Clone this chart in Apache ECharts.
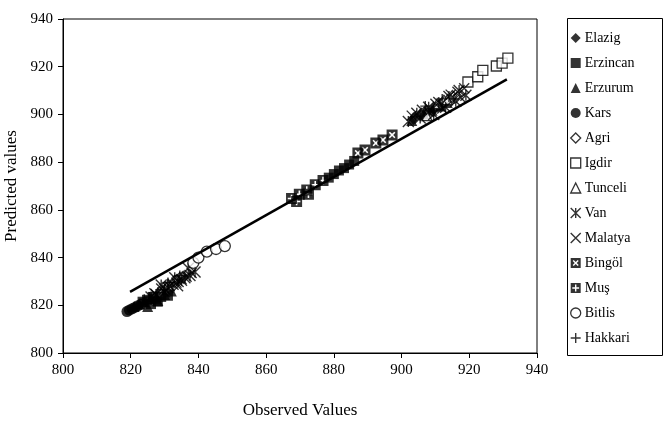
<!DOCTYPE html>
<html><head><meta charset="utf-8">
<script src="https://cdn.jsdelivr.net/npm/echarts@6/dist/echarts.min.js"></script>
<style>html,body{margin:0;padding:0;background:#fff}#c{width:667px;height:425px}</style>
</head><body><div id="c"></div>
<script>
// ---- data (observed, predicted) ----
const axisTicks = [800, 820, 840, 860, 880, 900, 920, 940];
const fitLine = [[819.8, 825.6], [931.1, 914.7]];
const elazig = [[903.5,898.3],[905.5,899.8],[907.5,901.2],[909.5,902.5],[911.5,904]];
const erzincan = [[823.5,821.5],[824.8,822.3],[826,820.5],[826.5,823.5],[828,821.5],[829,823.5],[831,824],
                  [878.5,873.5],[880,875],[881.5,876.5],[883,877.5],[884.5,879],[886,880.5]];
const erzurum = [[821,819.5],[822.5,820.5],[824,821.5],[825,819.5],[826,822.8],[827.5,823],[828,822],[830,824.5],[832,826],
                 [903,897.5],[906.5,900.2],[909,901.8],[911.5,903.5],[913.5,905]];
const kars = [[818.9,817.4],[819.6,818],[820.4,818.5],[821.2,819.1],[822.1,819.8],[823,820.4]];
const agri = [[833,830],[835.5,831.8],[912.5,905.5],[915,907.5]];
const igdir = [[919.6,913.6],[922.5,915.8],[924,918.5],[928,920.3],[929.7,921.5],[931.4,923.6]];
const tunceli = [[831,828.5],[907.5,899.5],[910.5,904.5],[913.5,906.2]];
const van = [[826,823.5],[827.5,824.5],[829,828.5],[830,826.8],[831,827.5],[832.5,828.8],[833,831.5],[834,830],[835,830.5],[836,831.5],[837,835.5],[837.5,832.5],[839,834],
             [902,897],[904.5,900.5],[905.5,898.5],[908,903],[909.5,900],[911,905],[913,903],[914,907.5],[916,905.5],[917,910],[919,908]];
const malatya = [[827,825],[829,827],[830,825.5],[831.5,828],[833.5,829.5],[834,828],[835,831],[836.5,832],[838,833.5],
                 [903,899.5],[906,902],[908,901],[910,904.5],[912,902.5],[914.5,908.3],[916.5,909.5],[917.5,907],[918.5,911]];
const bingol = [[887.1,883.8],[889.2,885.1],[892.4,888],[894.5,889.3],[897.2,891.4]];
const mus = [[867.5,864.8],[869,863.5],[869.8,866.5],[872,868.3],[872.5,866.5],[874.5,870.5],[876.8,872.3]];
const bitlis = [[838.5,837.8],[840,840],[842.5,842.5],[845.2,843.6],[847.8,844.8]];
const hakkari = [[824,822.5],[825.5,823.5],[828,825.5],[829.5,826.5],[831,829.5],[834.5,832.5],
                 [904,899],[907,903.5],[909.5,901.5],[912,906.5],[915.5,906.5]];

const names = ['Elazig','Erzincan','Erzurum','Kars','Agri','Igdir','Tunceli','Van','Malatya','Bingöl','Muş','Bitlis','Hakkari'];
const datasets = [elazig, erzincan, erzurum, kars, agri, igdir, tunceli, van, malatya, bingol, mus, bitlis, hakkari];

const P_STAR = 'path://M0,0L10,10M10,0L0,10M5,0L5,10';
const P_X = 'path://M0,0L10,10M10,0L0,10';
const P_PLUS = 'path://M5,0L5,10M0,5L10,5';
const P_XBOX = 'path://M0,0L10,0L10,10L0,10Z M3,2L2,3L4,5L2,7L3,8L5,6L7,8L8,7L6,5L8,3L7,2L5,4Z';
const P_PBOX = 'path://M0,0L10,0L10,10L0,10Z M4.3,1.6L4.3,4.3L1.6,4.3L1.6,5.7L4.3,5.7L4.3,8.4L5.7,8.4L5.7,5.7L8.4,5.7L8.4,4.3L5.7,4.3L5.7,1.6Z';

const filled = {color:'#000', borderWidth:0};
const open = {color:'#fff', borderColor:'#000', borderWidth:1.3};
const strokeOnly = {color:'rgba(0,0,0,0)', borderColor:'#000', borderWidth:1.4};
const styles = [
  {symbol:'diamond', size:[11,13], style:filled},
  {symbol:'rect', size:10, style:filled},
  {symbol:'triangle', size:11, style:filled},
  {symbol:'circle', size:11, style:filled},
  {symbol:'diamond', size:[10,12], style:open},
  {symbol:'rect', size:10, style:open},
  {symbol:'triangle', size:10, style:open},
  {symbol:P_STAR, size:11, style:strokeOnly},
  {symbol:P_X, size:10, style:strokeOnly},
  {symbol:P_XBOX, size:11, style:filled},
  {symbol:P_PBOX, size:11, style:filled},
  {symbol:'circle', size:11, style:open},
  {symbol:P_PLUS, size:10, style:strokeOnly}
];

const FONT = '"Liberation Serif","Times New Roman",serif';
const series = names.map((n, i) => ({
  name: n, type: 'scatter', data: datasets[i],
  symbol: styles[i].symbol, symbolSize: styles[i].size,
  itemStyle: styles[i].style, z: 2 + i * 0.01,
  emphasis: {disabled: true}
}));
series.push({
  name: 'fit', type: 'line', data: fitLine, symbol: 'none',
  lineStyle: {color:'#000', width:2.5}, z: 5, silent: true
});

const chart = echarts.init(document.getElementById('c'), null, {renderer:'canvas'});
chart.setOption({
  animation: false,
  backgroundColor: '#fff',
  grid: {left:63, top:19, right:130, bottom:72, show:true, borderColor:'#000', borderWidth:1, backgroundColor:'#fff',
         containLabel:false, outerBoundsMode:'none'},
  xAxis: {
    type:'value', min:axisTicks[0], max:axisTicks[axisTicks.length-1], interval:20,
    name:'Observed Values', nameLocation:'middle', nameGap:49,
    nameTextStyle:{fontFamily:FONT, fontSize:17, color:'#000'},
    axisLine:{lineStyle:{color:'#000', width:1}},
    axisTick:{show:true, inside:false, length:5, lineStyle:{color:'#000'}},
    axisLabel:{fontFamily:FONT, fontSize:15, color:'#000', margin:10},
    splitLine:{show:false}
  },
  yAxis: {
    type:'value', min:axisTicks[0], max:axisTicks[axisTicks.length-1], interval:20,
    name:'Predicted values', nameLocation:'middle', nameGap:37, nameRotate:90,
    nameTextStyle:{fontFamily:FONT, fontSize:17, color:'#000'},
    axisLine:{lineStyle:{color:'#000', width:1}},
    axisTick:{show:true, inside:false, length:5, lineStyle:{color:'#000'}},
    axisLabel:{fontFamily:FONT, fontSize:15, color:'#000', margin:10},
    splitLine:{show:false}
  },
  legend: {
    orient:'vertical', left:570, top:31, itemWidth:10, itemHeight:10, itemGap:11,
    padding:0,
    textStyle:{fontFamily:FONT, fontSize:14, color:'#000', padding:[0,0,0,-1]},
    data: names.map((n,i) => ({name:n, icon:styles[i].symbol, itemStyle:styles[i].style}))
  },
  graphic: [{type:'rect', shape:{x:567.5, y:18.5, width:95, height:337}, style:{fill:'none', stroke:'#000', lineWidth:1}, z:-1}],
  series: series
});
</script></body></html>
